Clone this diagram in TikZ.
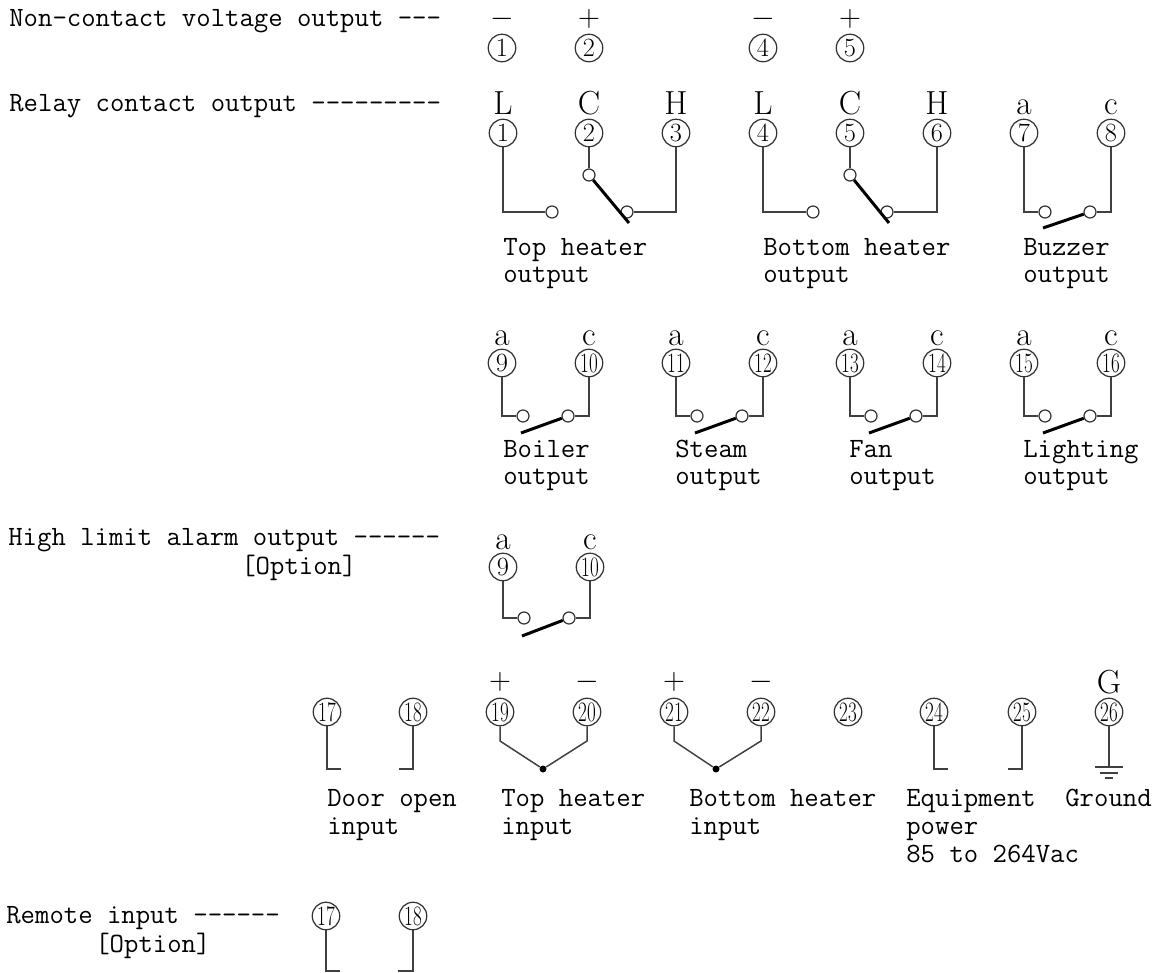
\documentclass[tikz,border=0pt]{standalone}
\usepackage{fontspec}
\usepackage{graphicx}
\usetikzlibrary{positioning}
\newcommand{\dbl}[1]{\scalebox{0.68}[1]{#1}}
\tikzset{
	term/.style={circle, draw=black!80, line width=0.7pt, inner sep=0pt, minimum size=0.55cm, font=\fontsize{15}{15}\selectfont},
	termb/.style={term, font=\fontsize{16}{16}\selectfont},
	sign/.style={anchor=base, inner sep=0pt, font=\fontsize{19}{19}\selectfont},
	pm/.style={inner sep=0pt, font=\fontsize{18}{18}\selectfont},
	txt/.style={anchor=base west, inner sep=0pt, font=\fontsize{15.9}{15.9}\ttfamily},
	pin/.style={circle, draw=black!80, fill=white, line width=0.7pt, inner sep=0pt, minimum size=0.24cm},
	wire/.style={draw=black!75, line width=0.85pt},
	blade/.style={draw=black, line width=1.7pt},
	joint/.style={circle, fill=black, inner sep=0pt, minimum size=0.14cm}
}
\begin{document}
\begin{tikzpicture}[x=0.02cm, y=-0.02cm]
\useasboundingbox (0,0) rectangle (1160,973);
% left hand titles
\node[txt] (nvo) at (9,27) {Non-contact voltage output ---};
\node[txt] (rco) at (9,112) {Relay contact output ---------};
\node[txt] (hla) at (8,545) {High limit alarm output ------};
\node[txt] (hlo) at (241,574) {[Option]};
\node[txt] (rmi) at (6,923) {Remote input ------};
\node[txt] (rmo) at (95,952) {[Option]};
% voltage output
\node[term] (a1) at (502,48) {1};
\node[term] (a2) at (589,48) {2};
\node[term] (a4) at (763,48) {4};
\node[term] (a5) at (850,48) {5};
\node[pm] (m1) at (502,19) {$-$};
\node[pm] (p2) at (589,19) {$+$};
\node[pm] (m4) at (763,19) {$-$};
\node[pm] (p5) at (850,19) {$+$};
% top and bottom heater relay
\node[term] (r1) at (503,133) {1};
\node[term] (r2) at (589,133) {2};
\node[term] (r3) at (676,133) {3};
\node[term] (r4) at (763,133) {4};
\node[term] (r5) at (850,133) {5};
\node[term] (r6) at (937,133) {6};
\node[sign] (l1) at (503,115) {L};
\node[sign] (l2) at (589,115) {C};
\node[sign] (l3) at (676,115) {H};
\node[sign] (l4) at (763,115) {L};
\node[sign] (l5) at (850,115) {C};
\node[sign] (l6) at (937,115) {H};
\node[pin] (o1) at (552,212) {};
\node[pin] (o2) at (589,175) {};
\node[pin] (o3) at (627,212) {};
\node[pin] (o4) at (813,212) {};
\node[pin] (o5) at (850,175) {};
\node[pin] (o6) at (887,212) {};
\coordinate (q2) at (629,223);
\coordinate (q5) at (889,223);
\draw[wire] (r1) |- (o1);
\draw[wire] (r2) -- (o2);
\draw[wire] (r3) |- (o3);
\draw[wire] (r4) |- (o4);
\draw[wire] (r5) -- (o5);
\draw[wire] (r6) |- (o6);
\draw[blade] (o2) -- (q2);
\draw[blade] (o5) -- (q5);
\node[txt] (th1) at (503,256) {Top heater};
\node[txt] (th2) at (503,283) {output};
\node[txt] (bh1) at (763,256) {Bottom heater};
\node[txt] (bh2) at (763,283) {output};
% buzzer
\node[term] (r7) at (1024,133) {7};
\node[term] (r8) at (1111,133) {8};
\node[sign] (l7) at (1024,115) {a};
\node[sign] (l8) at (1111,115) {c};
\node[pin] (o7) at (1045,212) {};
\node[pin] (o8) at (1090,212) {};
\coordinate (q8) at (1043,228);
\draw[wire] (r7) |- (o7);
\draw[wire] (r8) |- (o8);
\draw[blade] (q8) -- (o8);
\node[txt] (bz1) at (1023,256) {Buzzer};
\node[txt] (bz2) at (1023,283) {output};
% boiler
\node[term] (s9) at (502,363) {9};
\node[termb] (s10) at (589,363) {\dbl{10}};
\node[sign] (l9) at (502,345) {a};
\node[sign] (l10) at (589,345) {c};
\node[pin] (o9) at (523,416) {};
\node[pin] (o10) at (568,416) {};
\coordinate (q10) at (521,433);
\draw[wire] (s9) |- (o9);
\draw[wire] (s10) |- (o10);
\draw[blade] (q10) -- (o10);
\node[txt] (bo1) at (503,457) {Boiler};
\node[txt] (bo2) at (503,484) {output};
% steam
\node[termb] (s11) at (676,363) {\dbl{11}};
\node[termb] (s12) at (763,363) {\dbl{12}};
\node[sign] (l11) at (676,345) {a};
\node[sign] (l12) at (763,345) {c};
\node[pin] (o11) at (697,416) {};
\node[pin] (o12) at (742,416) {};
\coordinate (q12) at (695,433);
\draw[wire] (s11) |- (o11);
\draw[wire] (s12) |- (o12);
\draw[blade] (q12) -- (o12);
\node[txt] (st1) at (675,457) {Steam};
\node[txt] (st2) at (675,484) {output};
% fan
\node[termb] (s13) at (850,363) {\dbl{13}};
\node[termb] (s14) at (937,363) {\dbl{14}};
\node[sign] (l13) at (850,345) {a};
\node[sign] (l14) at (937,345) {c};
\node[pin] (o13) at (871,416) {};
\node[pin] (o14) at (916,416) {};
\coordinate (q14) at (869,433);
\draw[wire] (s13) |- (o13);
\draw[wire] (s14) |- (o14);
\draw[blade] (q14) -- (o14);
\node[txt] (fa1) at (849,457) {Fan};
\node[txt] (fa2) at (849,484) {output};
% lighting
\node[termb] (s15) at (1024,363) {\dbl{15}};
\node[termb] (s16) at (1111,363) {\dbl{16}};
\node[sign] (l15) at (1024,345) {a};
\node[sign] (l16) at (1111,345) {c};
\node[pin] (o15) at (1045,416) {};
\node[pin] (o16) at (1090,416) {};
\coordinate (q16) at (1043,433);
\draw[wire] (s15) |- (o15);
\draw[wire] (s16) |- (o16);
\draw[blade] (q16) -- (o16);
\node[txt] (li1) at (1023,457) {Lighting};
\node[txt] (li2) at (1023,484) {output};
% high limit alarm
\node[term] (h9) at (503,567) {9};
\node[termb] (h10) at (590,567) {\dbl{10}};
\node[sign] (n9) at (503,549) {a};
\node[sign] (n10) at (590,549) {c};
\node[pin] (u9) at (524,618) {};
\node[pin] (u10) at (569,618) {};
\coordinate (v10) at (522,636);
\draw[wire] (h9) |- (u9);
\draw[wire] (h10) |- (u10);
\draw[blade] (v10) -- (u10);
% inputs
\node[termb] (i17) at (327,712) {\dbl{17}};
\node[termb] (i18) at (413,712) {\dbl{18}};
\node[termb] (i19) at (500,712) {\dbl{19}};
\node[termb] (i20) at (587,712) {\dbl{20}};
\node[termb] (i21) at (674,712) {\dbl{21}};
\node[termb] (i22) at (761,712) {\dbl{22}};
\node[termb] (i23) at (848,712) {\dbl{23}};
\node[termb] (i24) at (934,712) {\dbl{24}};
\node[termb] (i25) at (1022,712) {\dbl{25}};
\node[termb] (i26) at (1109,712) {\dbl{26}};
\node[pm] (p19) at (500,682) {$+$};
\node[pm] (m20) at (587,682) {$-$};
\node[pm] (p21) at (674,682) {$+$};
\node[pm] (m22) at (761,682) {$-$};
\node[sign] (g26) at (1109,693) {G};
\coordinate (e17) at (341,769);
\coordinate (e18) at (399,769);
\coordinate (e24) at (948,769);
\coordinate (e25) at (1008,769);
\draw[wire] (i17) |- (e17);
\draw[wire] (i18) |- (e18);
\draw[wire] (i24) |- (e24);
\draw[wire] (i25) |- (e25);
\node[joint] (j1) at (543,769) {};
\node[joint] (j2) at (716,769) {};
\coordinate (k19) at (500,741);
\coordinate (k20) at (587,741);
\coordinate (k21) at (674,741);
\coordinate (k22) at (761,741);
\draw[wire] (i19) -- (k19) -- (j1) -- (k20) -- (i20);
\draw[wire] (i21) -- (k21) -- (j2) -- (k22) -- (i22);
% ground
\coordinate (gnd) at (1109,767);
\draw[wire] (i26) -- (gnd);
\draw[wire] (gnd) ++(-14,0) -- ++(28,0);
\draw[wire] (gnd) ++(-9,6) -- ++(18,0);
\draw[wire] (gnd) ++(-4,11) -- ++(8,0);
\node[txt] (do1) at (327,806) {Door open};
\node[txt] (do2) at (327,834) {input};
\node[txt] (ti1) at (501,806) {Top heater};
\node[txt] (ti2) at (501,834) {input};
\node[txt] (bi1) at (689,806) {Bottom heater};
\node[txt] (bi2) at (689,834) {input};
\node[txt] (ep1) at (906,806) {Equipment};
\node[txt] (ep2) at (906,834) {power};
\node[txt] (ep3) at (906,862) {85 to 264Vac};
\node[txt] (gr1) at (1065,806) {Ground};
% remote input
\node[termb] (x17) at (326,916) {\dbl{17}};
\node[termb] (x18) at (413,916) {\dbl{18}};
\coordinate (y17) at (340,971);
\coordinate (y18) at (398,971);
\draw[wire] (x17) |- (y17);
\draw[wire] (x18) |- (y18);
\end{tikzpicture}
\end{document}
